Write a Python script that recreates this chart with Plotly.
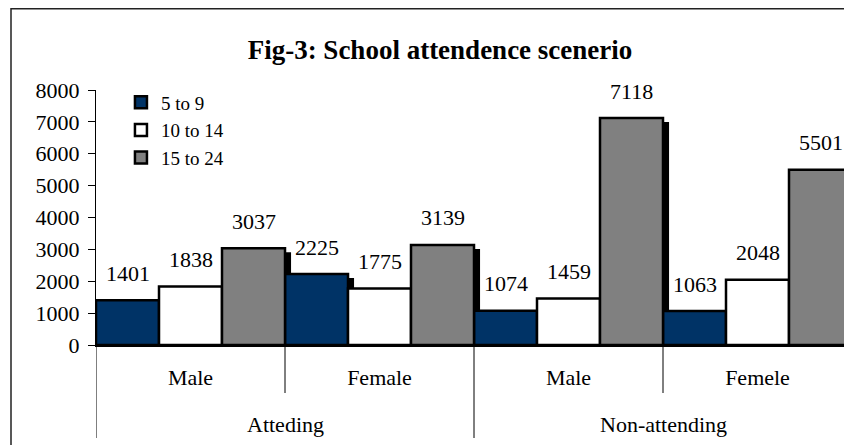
import plotly.graph_objects as go

# ---- data ----
outer_labels = ["Atteding", "Non-attending"]
inner_labels = ["Male", "Female", "Male", "Femele"]
series_names = ["5 to 9", "10 to 14", "15 to 24"]
values_5_9 = [1401, 2225, 1074, 1063]
values_10_14 = [1838, 1775, 1459, 2048]
values_15_24 = [3037, 3139, 7118, 5501]
y_tick_vals = [0, 1000, 2000, 3000, 4000, 5000, 6000, 7000, 8000]
title_text = "Fig-3: School attendence scenerio"

series_values = [values_5_9, values_10_14, values_15_24]
series_colors = ["#003366", "#FFFFFF", "#808080"]

FONT = "Liberation Serif"
positions = list(range(len(inner_labels)))
n = len(series_names)
bw = 1.0 / n
shadow_dx = 0.032
shadow_dy = 125

# the page body has an 8px margin; figure sized so it ends at the window edge
W, H = 844, 437
ML, MT, MB, MR = 88, 82, 100, 0
PH = H - MT - MB
PW = W - ML - MR

fig = go.Figure()

# shadows first
for i, vals in enumerate(series_values):
    fig.add_trace(go.Bar(
        x=positions, y=vals, base=[-shadow_dy] * len(vals),
        offset=-0.5 + i * bw + shadow_dx, width=bw,
        marker=dict(color="black", line=dict(width=0)),
        showlegend=False, hoverinfo="skip",
    ))

# main bars
for i, (name, vals) in enumerate(zip(series_names, series_values)):
    fig.add_trace(go.Bar(
        x=positions, y=vals, name=name,
        offset=-0.5 + i * bw, width=bw,
        marker=dict(color=series_colors[i], line=dict(color="black", width=2.5)),
    ))

annotations = []
for i, vals in enumerate(series_values):
    for g, v in zip(positions, vals):
        annotations.append(dict(
            x=g - 0.5 + (i + 0.5) * bw, y=v, xref="x", yref="y",
            text=str(v), showarrow=False, yanchor="middle", yshift=27,
            font=dict(family=FONT, size=22, color="black"),
        ))

# outer category labels
for k, lab in enumerate(outer_labels):
    annotations.append(dict(
        x=positions[2 * k] + 0.5, y=-79 / PH, xref="x", yref="paper",
        text=lab, showarrow=False, yanchor="middle",
        font=dict(family=FONT, size=22, color="black"),
    ))

shapes = []
# divider lines
for xv, ybot in [(-0.5, -93), (0.5, -48), (1.5, -93), (2.5, -48)]:
    shapes.append(dict(type="line", xref="x", yref="paper", x0=xv, x1=xv,
                       y0=0, y1=ybot / PH, line=dict(color="black", width=1)))
# outer chart border
shapes.append(dict(type="rect", xref="paper", yref="paper",
                   x0=(3 - ML) / PW, x1=1.2, y0=-0.6, y1=1 + (MT - 0.75) / PH,
                   line=dict(color="#222222", width=1.5), fillcolor="rgba(0,0,0,0)"))

fig.update_layout(
    width=W, height=H,
    margin=dict(l=ML, r=MR, t=MT, b=MB),
    paper_bgcolor="white", plot_bgcolor="white",
    barmode="overlay",
    title=dict(text=title_text, x=0.455, xanchor="center", y=1 - 42 / H,
               yanchor="middle", xref="paper",
               font=dict(family=FONT, size=27, color="black", weight="bold")),
    font=dict(family=FONT, size=20, color="black"),
    legend=dict(x=0.033, y=1.026, xanchor="left", yanchor="top",
                bgcolor="rgba(0,0,0,0)", font=dict(family=FONT, size=19),
                tracegroupgap=0),
    xaxis=dict(range=[-0.5, 3.5], tickvals=positions, ticktext=inner_labels,
               ticks="", showgrid=False, zeroline=False, showline=True,
               linecolor="black", linewidth=2, ticklabelstandoff=12,
               tickfont=dict(family=FONT, size=22)),
    yaxis=dict(range=[0, 8000], tickvals=y_tick_vals, ticks="outside",
               ticklen=7, tickcolor="black", showgrid=False, zeroline=False,
               showline=True, linecolor="black", linewidth=1,
               ticklabelstandoff=4,
               tickfont=dict(family=FONT, size=22)),
    annotations=annotations,
    shapes=shapes,
)

fig.write_html("out.html")
